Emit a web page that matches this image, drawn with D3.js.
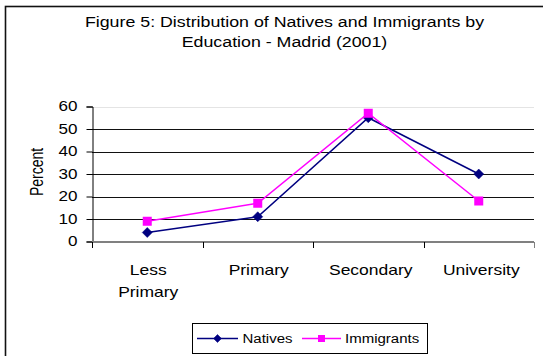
<!DOCTYPE html>
<html>
<head>
<meta charset="utf-8">
<script src="https://cdn.jsdelivr.net/npm/d3@7"></script>
<style>
  html, body { margin: 0; padding: 0; background: #fff; }
  svg { display: block; font-family: "Liberation Sans", Arial, sans-serif; }
</style>
</head>
<body>
<svg id="chart" width="543" height="356"></svg>
<script>
// Education levels (x categories), each label split into lines
const categories = ["Less Primary", "Primary", "Secondary", "University"];
const categoryLines = [["Less", "Primary"], ["Primary"], ["Secondary"], ["University"]];

// Percent of each population by education level
const natives = [4, 11, 55, 30];
const immigrants = [9, 17, 57, 18];

const yTicks = [0, 10, 20, 30, 40, 50, 60];
const titleLines = ["Figure 5: Distribution of Natives and Immigrants by", "Education - Madrid (2001)"];

// Text is drawn slightly widened horizontally
const STRETCH = 1.25;

const svg = d3.select("#chart");

// Outer chart frame
svg.append("rect")
  .attr("x", 5.5).attr("y", 6.5)
  .attr("width", 560).attr("height", 380)
  .attr("fill", "#fff").attr("stroke", "#111").attr("stroke-width", 1.6);

const plot = { left: 92, right: 534, top: 106.5, bottom: 241.5 };

const x = d3.scaleBand().domain(categories).range([plot.left, plot.right]);
const y = d3.scaleLinear().domain([0, 60]).range([plot.bottom, plot.top]);

// Title
titleLines.forEach((t, i) => {
  svg.append("text")
    .attr("transform", `translate(284.5,${27 + i * 20}) scale(1.27,1)`)
    .attr("text-anchor", "middle")
    .attr("font-size", 14)
    .text(t);
});

// Horizontal gridlines
svg.append("g").selectAll("line").data(yTicks.filter(t => t > 0)).join("line")
  .attr("x1", plot.left).attr("x2", plot.right)
  .attr("y1", d => Math.round(y(d)) + 0.5).attr("y2", d => Math.round(y(d)) + 0.5)
  .attr("stroke", d => d === 60 ? "#e4e4e4" : "#111")
  .attr("stroke-width", 1);

// Y axis
const yAxis = svg.append("g")
  .attr("transform", `translate(${plot.left + 0.5},0)`)
  .call(d3.axisLeft(y).tickValues(yTicks).tickSize(6).tickPadding(4));
yAxis.select(".domain").attr("stroke", "#000");
yAxis.selectAll(".tick line").attr("stroke", "#000");
yAxis.selectAll(".tick text")
  .attr("x", 0)
  .attr("transform", `translate(-15,0) scale(1.22,1)`)
  .attr("font-size", 14).attr("fill", "#000")
  .attr("font-family", "Liberation Sans, Arial, sans-serif");

// X axis with ticks between categories
const xAxisG = svg.append("g").attr("transform", `translate(0,${plot.bottom + 0.5})`);
xAxisG.append("line")
  .attr("x1", plot.left).attr("x2", plot.right)
  .attr("stroke", "#808080").attr("stroke-width", 2);
const boundaries = categories.map(c => x(c)).concat([x(categories[categories.length - 1]) + x.bandwidth()]);
xAxisG.selectAll("line.tick").data(boundaries).join("line")
  .attr("class", "tick")
  .attr("x1", d => Math.round(d) + 0.5).attr("x2", d => Math.round(d) + 0.5)
  .attr("y1", 0).attr("y2", 6)
  .attr("stroke", (d, i) => i === boundaries.length - 1 ? "#808080" : "#000");

// Category labels
categories.forEach((c, i) => {
  const cxp = x(c) + x.bandwidth() / 2 + (i >= 2 ? 2.5 : 1);
  categoryLines[i].forEach((t, j) => {
    svg.append("text")
      .attr("transform", `translate(${cxp},${275 + j * 22}) scale(${STRETCH},1)`)
      .attr("text-anchor", "middle")
      .attr("font-size", 14)
      .text(t);
  });
});

// Y axis title
svg.append("text")
  .attr("transform", `translate(42.5,172) scale(${STRETCH},1) rotate(-90)`)
  .attr("text-anchor", "middle")
  .attr("font-size", 14)
  .text("Percent");

// Series
const cx = d => x(d) + x.bandwidth() / 2;
const series = [
  { name: "Natives", values: natives, color: "#000080", marker: "diamond" },
  { name: "Immigrants", values: immigrants, color: "#ff00ff", marker: "square" }
];

const line = d3.line().x(d => cx(d.cat)).y(d => y(d.v));

function drawMarker(g, type, color, px, py, r) {
  if (type === "diamond") {
    g.append("path")
      .attr("d", `M${px},${py - r}L${px + r},${py}L${px},${py + r}L${px - r},${py}Z`)
      .attr("fill", color).attr("stroke", color).attr("stroke-width", 0.5);
  } else {
    const h = r - 0.5;
    g.append("rect")
      .attr("x", px - h).attr("y", py - h).attr("width", 2 * h).attr("height", 2 * h)
      .attr("fill", color);
  }
}

series.forEach(s => {
  const pts = categories.map((c, i) => ({ cat: c, v: s.values[i] }));
  const g = svg.append("g");
  g.append("path").datum(pts)
    .attr("d", line)
    .attr("fill", "none").attr("stroke", s.color).attr("stroke-width", 1.5);
  pts.forEach(p => drawMarker(g, s.marker, s.color, cx(p.cat), y(p.v), 5));
});

// Legend
const legend = svg.append("g");
legend.append("rect")
  .attr("x", 192.5).attr("y", 323.5).attr("width", 235).attr("height", 30)
  .attr("fill", "#fff").attr("stroke", "#000").attr("stroke-width", 1);
const legendItems = [
  { s: series[0], x0: 197, x1: 238, tx: 242.5 },
  { s: series[1], x0: 302, x1: 341, tx: 345 }
];
legendItems.forEach(it => {
  const ly = 338.5;
  legend.append("line")
    .attr("x1", it.x0).attr("x2", it.x1)
    .attr("y1", ly).attr("y2", ly)
    .attr("stroke", it.s.color).attr("stroke-width", 1.5);
  drawMarker(legend, it.s.marker, it.s.color, (it.x0 + it.x1) / 2, ly, 4);
  legend.append("text")
    .attr("transform", `translate(${it.tx},${ly + 4.5}) scale(${STRETCH},1)`)
    .attr("font-size", 12)
    .text(it.s.name);
});
</script>
</body>
</html>
